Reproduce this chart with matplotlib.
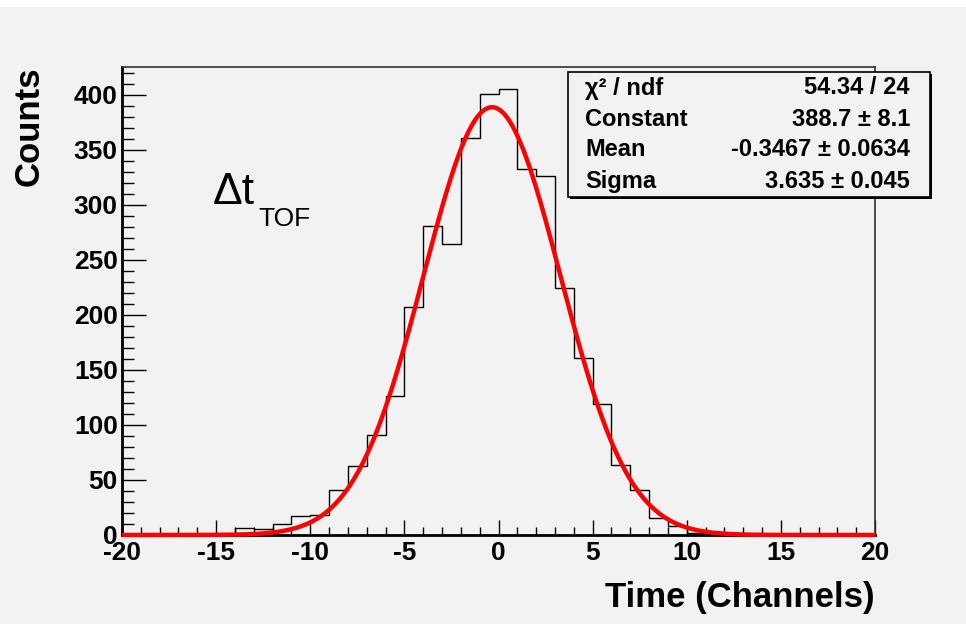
import numpy as np
import matplotlib
matplotlib.use("Agg")
import matplotlib.pyplot as plt
from matplotlib.patches import Rectangle

# Histograma de tiempos (bins de 1 canal, de -20 a 20)
bin_edges = list(range(-20, 21))
counts = [0, 0, 0, 0, 0, 0,                # -20 .. -15
          6, 5, 10, 17, 18, 41, 63, 91, 126, 207,   # -14 .. -5
          281, 264, 361, 401, 405, 333, 326, 224, 161, 119,  # -4 .. 5
          64, 41, 15, 8, 2, 1, 1,           # 6 .. 12
          0, 0, 0, 0, 0, 0, 0]              # 13 .. 19

# Parametros del ajuste gaussiano (caja de estadisticas)
fit_constant = 388.7
fit_mean = -0.3467
fit_sigma = 3.635
stat_names = ["\u03c7\u00b2 / ndf", "Constant", "Mean", "Sigma"]
stat_values = ["54.34 / 24", "388.7 \u00b1 8.1", "-0.3467 \u00b1 0.0634", "3.635 \u00b1 0.045"]

W, H = 966, 624
bg = "#f2f2f2"
plt.rcParams["font.family"] = ["Liberation Sans", "DejaVu Sans"]
plt.rcParams["axes.unicode_minus"] = False

fig = plt.figure(figsize=(W / 100, H / 100), dpi=100, facecolor=bg)
ax = fig.add_axes([122 / W, 1 - 535 / H, (875 - 122) / W, (535 - 66.7) / H])
ax.set_facecolor(bg)

# franja blanca arriba
fig.patches.append(Rectangle((0, 1 - 7 / H), 1, 7 / H, transform=fig.transFigure,
                             facecolor="white", edgecolor="none", zorder=0))

ax.stairs(counts, bin_edges, color="black", lw=1.0, zorder=3)

x = np.linspace(-20, 20, 801)
y = fit_constant * np.exp(-0.5 * ((x - fit_mean) / fit_sigma) ** 2)
ax.plot(x, y, color="#ff0000", lw=3.2, zorder=4, clip_on=False, solid_capstyle="butt")

ax.set_xlim(-20, 20)
ax.set_ylim(0, 425.5)
ax.set_xticks(range(-20, 21, 5))
ax.set_xticks(range(-20, 21, 1), minor=True)
ax.set_yticks(range(0, 401, 50))
ax.set_yticks(range(0, 421, 10), minor=True)

ax.tick_params(axis="x", which="major", direction="in", length=11, width=1, pad=4,
               labelsize=19, top=False)
ax.tick_params(axis="x", which="minor", direction="in", length=6, width=1, top=False)
ax.tick_params(axis="y", which="major", direction="in", length=17, width=1, pad=3,
               labelsize=19, right=False)
ax.tick_params(axis="y", which="minor", direction="in", length=8.5, width=1, right=False)
for lab in ax.get_xticklabels() + ax.get_yticklabels():
    lab.set_fontweight("bold")

for s in ["left", "bottom"]:
    ax.spines[s].set_linewidth(2)
    ax.spines[s].set_color("black")
for s in ["top", "right"]:
    ax.spines[s].set_linewidth(1.2)
    ax.spines[s].set_color("#333333")

ax.set_xlabel("Time (Channels)", fontsize=25, fontweight="bold", loc="right", labelpad=12)
ax.set_ylabel("Counts", fontsize=25, fontweight="bold", loc="top", labelpad=20)

# Delta t_TOF
fig.text(213 / W, 1 - 204 / H, "\u0394t", fontsize=32, va="baseline", ha="left")
fig.text(258 / W, 1 - 226 / H, "TOF", fontsize=19, va="baseline", ha="left")

# caja de estadisticas con sombra
bx0, by0, bx1, by1 = 568, 72, 930, 197
fig.patches.append(Rectangle((bx0 / W + 2 / W, 1 - by1 / H - 2 / H), (bx1 - bx0) / W, (by1 - by0) / H,
                             transform=fig.transFigure, facecolor="black", edgecolor="none", zorder=5))
fig.patches.append(Rectangle((bx0 / W, 1 - by1 / H), (bx1 - bx0) / W, (by1 - by0) / H,
                             transform=fig.transFigure, facecolor=bg, edgecolor="black",
                             lw=1.2, zorder=6))
rows_y = [88, 119, 150, 181]
for name, val, ry in zip(stat_names, stat_values, rows_y):
    fig.text(585 / W, 1 - ry / H, name, fontsize=17, fontweight="bold", va="center", ha="left", zorder=7)
    fig.text(910 / W, 1 - ry / H, val, fontsize=17, fontweight="bold", va="center", ha="right", zorder=7)

fig.savefig("out.png", dpi=100, facecolor=bg)
